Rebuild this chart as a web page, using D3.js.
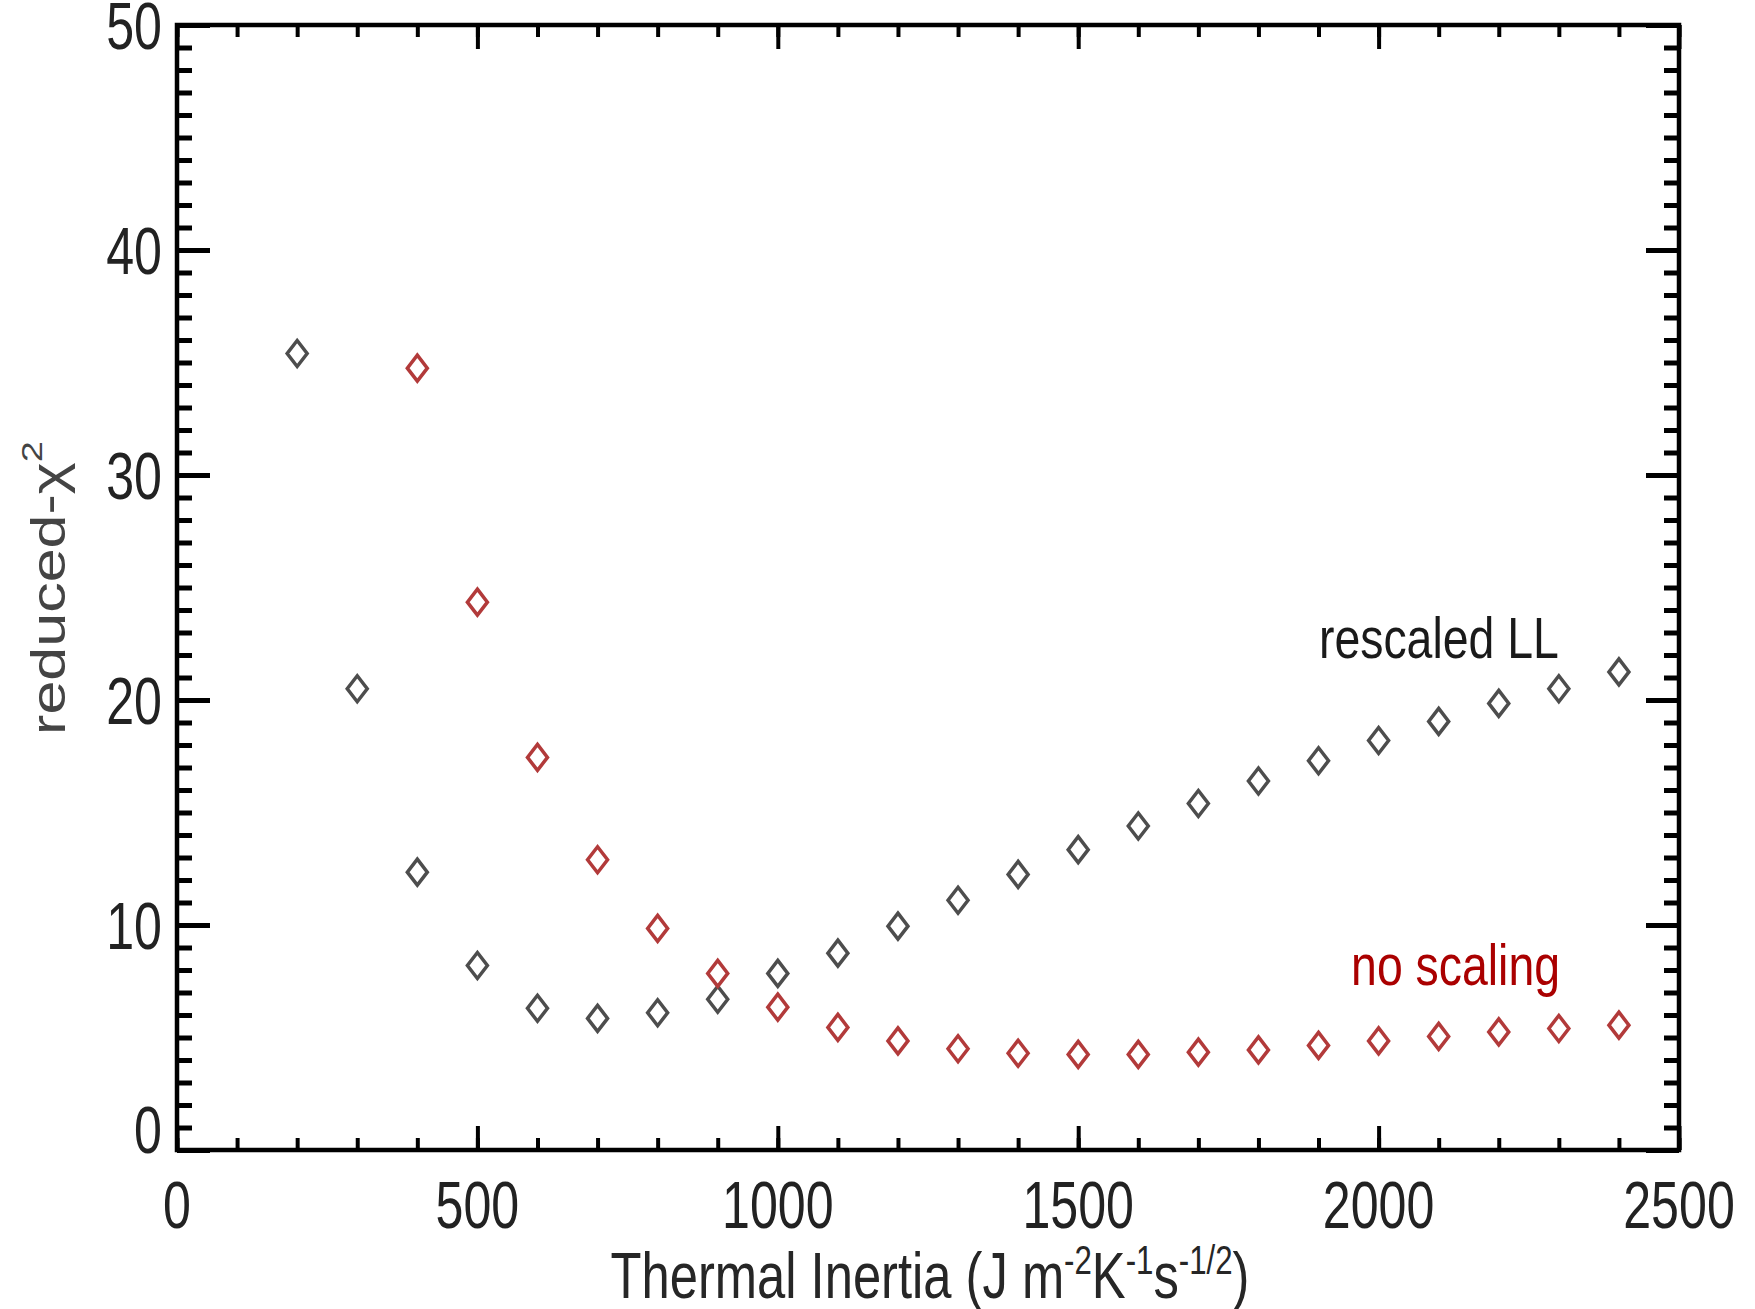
<!DOCTYPE html>
<html>
<head>
<meta charset="utf-8">
<script src="https://cdn.jsdelivr.net/npm/d3@7"></script>
<style>
body{margin:0;background:#fff;}
text{font-family:"Liberation Sans",Arial,sans-serif;}
</style>
</head>
<body>
<svg id="chart" width="1755" height="1309"></svg>
<script>
var xTicks=[0,500,1000,1500,2000,2500];
var yTicks=[0,10,20,30,40,50];

var inertia=[200,300,400,500,600,700,800,900,1000,1100,1200,1300,1400,1500,1600,1700,1800,1900,2000,2100,2200,2300,2400];
var rescaledChi=[35.4,20.5,12.35,8.2,6.3,5.85,6.1,6.7,7.85,8.75,9.95,11.1,12.25,13.35,14.4,15.4,16.4,17.3,18.2,19.05,19.85,20.5,21.25];

var inertiaRaw=[400,500,600,700,800,900,1000,1100,1200,1300,1400,1500,1600,1700,1800,1900,2000,2100,2200,2300,2400];
var noScaleChi=[34.75,24.35,17.45,12.9,9.85,7.85,6.35,5.45,4.85,4.5,4.3,4.25,4.25,4.35,4.45,4.65,4.85,5.05,5.25,5.4,5.55];

var pLeft=177,pTop=25,pRight=1679,pBottom=1150;

var svg=d3.select("#chart");

var x=d3.scaleLinear().domain([0,2500]).range([pLeft,pRight]);
var y=d3.scaleLinear().domain([0,50]).range([pBottom,pTop]);

var xMinor=d3.range(0,2501,100);
var yMinor=d3.range(0,51,1);

function tickstyle(g,w){
    g.select(".domain").remove();
    g.selectAll("line").attr("stroke","#000").attr("stroke-width",w);
}

svg.append("g").attr("transform","translate(0,"+pBottom+")")
    .call(d3.axisBottom(x).tickValues(xMinor).tickSize(-12).tickFormat(""))
    .call(tickstyle,4);
svg.append("g").attr("transform","translate(0,"+pBottom+")")
    .call(d3.axisBottom(x).tickValues(xTicks).tickSize(-24).tickFormat(""))
    .call(tickstyle,4);
svg.append("g").attr("transform","translate(0,"+pTop+")")
    .call(d3.axisTop(x).tickValues(xMinor).tickSize(-12).tickFormat(""))
    .call(tickstyle,4);
svg.append("g").attr("transform","translate(0,"+pTop+")")
    .call(d3.axisTop(x).tickValues(xTicks).tickSize(-24).tickFormat(""))
    .call(tickstyle,4);

svg.append("g").attr("transform","translate("+pLeft+",0)")
    .call(d3.axisLeft(y).tickValues(yMinor).tickSize(-15).tickFormat(""))
    .call(tickstyle,5);
svg.append("g").attr("transform","translate("+pLeft+",0)")
    .call(d3.axisLeft(y).tickValues(yTicks).tickSize(-33).tickFormat(""))
    .call(tickstyle,5);
svg.append("g").attr("transform","translate("+pRight+",0)")
    .call(d3.axisRight(y).tickValues(yMinor).tickSize(-15).tickFormat(""))
    .call(tickstyle,5);
svg.append("g").attr("transform","translate("+pRight+",0)")
    .call(d3.axisRight(y).tickValues(yTicks).tickSize(-33).tickFormat(""))
    .call(tickstyle,5);

svg.append("rect")
    .attr("x",pLeft).attr("y",pTop)
    .attr("width",pRight-pLeft).attr("height",pBottom-pTop)
    .attr("fill","none").attr("stroke","#000").attr("stroke-width",4.5);

// tick labels, squeezed like the original
svg.append("g").selectAll("text").data(xTicks).enter().append("text")
    .attr("transform",function(d){return "translate("+x(d)+",1228) scale(0.76,1)";})
    .attr("text-anchor","middle")
    .style("font-size","66px").attr("fill","#222")
    .text(function(d){return d;});

svg.append("g").selectAll("text").data(yTicks).enter().append("text")
    .attr("transform",function(d){
        var off=d==0?3:24;
        return "translate(162,"+(y(d)+off)+") scale(0.76,1)";
    })
    .attr("text-anchor","end")
    .style("font-size","66px").attr("fill","#222")
    .text(function(d){return d;});

var xt=svg.append("text")
    .attr("transform","translate("+((pLeft+pRight)/2+2)+",1298) scale(0.78,1)")
    .attr("text-anchor","middle")
    .style("font-size","65px").attr("fill","#262626");
xt.append("tspan").text("Thermal Inertia (J m");
xt.append("tspan").attr("dy",-24).style("font-size","40px").text("-2");
xt.append("tspan").attr("dy",24).text("K");
xt.append("tspan").attr("dy",-24).style("font-size","40px").text("-1");
xt.append("tspan").attr("dy",24).text("s");
xt.append("tspan").attr("dy",-24).style("font-size","40px").text("-1/2");
xt.append("tspan").attr("dy",24).text(")");

var yt=svg.append("text")
    .attr("transform","translate(65,588) rotate(-90) scale(1,0.78)")
    .attr("text-anchor","middle")
    .style("font-size","61px").attr("fill","#444");
yt.append("tspan").text("reduced-\u03c7");
yt.append("tspan").attr("dy",-30).style("font-size","38px").text("2");

function diamond(){
    return "M0,-13L10,0L0,13L-10,0Z";
}

svg.append("g").selectAll("path").data(inertia).enter().append("path")
    .attr("d",diamond())
    .attr("transform",function(d,i){return "translate("+x(d)+","+y(rescaledChi[i])+")";})
    .attr("fill","none").attr("stroke","#4d4d4d").attr("stroke-width",3.5);

svg.append("g").selectAll("path").data(inertiaRaw).enter().append("path")
    .attr("d",diamond())
    .attr("transform",function(d,i){return "translate("+x(d)+","+y(noScaleChi[i])+")";})
    .attr("fill","none").attr("stroke","#b23a3a").attr("stroke-width",3.5);

svg.append("text")
    .attr("transform","translate("+x(2300)+","+y(21.85)+") scale(0.8,1)")
    .attr("text-anchor","end")
    .style("font-size","58px").attr("fill","#1a1a1a")
    .text("rescaled LL");

svg.append("text")
    .attr("transform","translate("+x(2302)+","+y(7.35)+") scale(0.8,1)")
    .attr("text-anchor","end")
    .style("font-size","58px").attr("fill","#aa0000")
    .text("no scaling");
</script>
</body>
</html>
